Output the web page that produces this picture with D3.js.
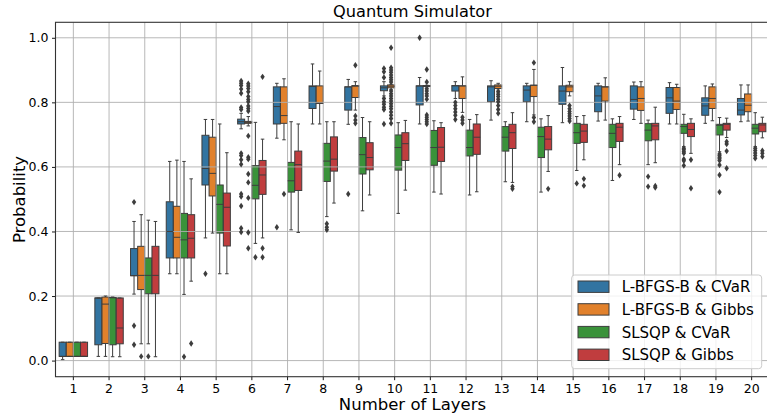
<!DOCTYPE html>
<html>
<head>
<meta charset="utf-8">
<script src="https://cdn.jsdelivr.net/npm/d3@7"></script>
<style>
    body { margin: 0; background: #fff; }
    svg { font-family: "DejaVu Sans", sans-serif; }
</style>
</head>
<body>
<div id="chart"></div>
<script>
// layer counts on the x axis
let layers = [1, 2, 3, 4, 5, 6, 7, 8, 9, 10, 11, 12, 13, 14, 15, 16, 17, 18, 19, 20];
let seriesNames = ["L-BFGS-B & CVaR", "L-BFGS-B & Gibbs", "SLSQP & CVaR", "SLSQP & Gibbs"];
let seriesColors = ["#3274a1", "#e1812c", "#3a923a", "#c03d3e"];
let yTicks = [0.0, 0.2, 0.4, 0.6, 0.8, 1.0];

// box stats per layer: [whisker low, q1, median, q3, whisker high]
let bfgsCvar = [
    [0.003, 0.013, 0.013, 0.057, 0.057], [0.013, 0.049, 0.194, 0.194, 0.194],
    [0.206, 0.263, 0.263, 0.347, 0.431], [0.269, 0.318, 0.400, 0.492, 0.617],
    [0.380, 0.544, 0.595, 0.698, 0.747], [0.718, 0.733, 0.740, 0.748, 0.766],
    [0.689, 0.733, 0.787, 0.848, 0.859], [0.733, 0.781, 0.849, 0.851, 0.919],
    [0.732, 0.776, 0.848, 0.848, 0.871], [0.820, 0.836, 0.845, 0.851, 0.864],
    [0.733, 0.792, 0.851, 0.851, 0.877], [0.812, 0.835, 0.851, 0.852, 0.864],
    [0.745, 0.802, 0.848, 0.851, 0.867], [0.740, 0.802, 0.838, 0.851, 0.859],
    [0.737, 0.794, 0.835, 0.851, 0.908], [0.742, 0.771, 0.820, 0.851, 0.859],
    [0.747, 0.779, 0.809, 0.851, 0.863], [0.733, 0.766, 0.814, 0.846, 0.861],
    [0.735, 0.760, 0.789, 0.814, 0.851], [0.740, 0.761, 0.776, 0.812, 0.854]
];
let bfgsGibbs = [
    [0.013, 0.013, 0.013, 0.057, 0.057], [0.013, 0.053, 0.175, 0.197, 0.200],
    [0.052, 0.220, 0.264, 0.354, 0.452], [0.269, 0.318, 0.382, 0.478, 0.621],
    [0.395, 0.510, 0.580, 0.692, 0.747], [0.727, 0.735, 0.738, 0.741, 0.756],
    [0.684, 0.735, 0.759, 0.848, 0.873], [0.733, 0.797, 0.797, 0.851, 0.897],
    [0.776, 0.815, 0.850, 0.852, 0.864], [0.840, 0.845, 0.850, 0.854, 0.856],
    [0.848, 0.849, 0.851, 0.852, 0.853], [0.769, 0.812, 0.851, 0.851, 0.879],
    [0.838, 0.843, 0.850, 0.854, 0.859], [0.761, 0.818, 0.853, 0.853, 0.902],
    [0.820, 0.833, 0.848, 0.853, 0.864], [0.745, 0.804, 0.848, 0.848, 0.876],
    [0.735, 0.775, 0.812, 0.848, 0.864], [0.733, 0.778, 0.804, 0.846, 0.856],
    [0.743, 0.781, 0.812, 0.848, 0.857], [0.742, 0.771, 0.791, 0.826, 0.854]
];
let slsqpCvar = [
    [0.013, 0.013, 0.013, 0.057, 0.057], [0.012, 0.049, 0.195, 0.195, 0.197],
    [0.052, 0.207, 0.264, 0.318, 0.435], [0.205, 0.318, 0.374, 0.456, 0.617],
    [0.269, 0.395, 0.484, 0.544, 0.733], [0.363, 0.501, 0.543, 0.604, 0.738],
    [0.405, 0.522, 0.557, 0.614, 0.740], [0.446, 0.555, 0.618, 0.673, 0.740],
    [0.464, 0.578, 0.638, 0.691, 0.753], [0.456, 0.590, 0.660, 0.699, 0.737],
    [0.522, 0.605, 0.660, 0.713, 0.743], [0.513, 0.634, 0.660, 0.714, 0.747],
    [0.554, 0.649, 0.692, 0.725, 0.740], [0.522, 0.629, 0.694, 0.723, 0.749],
    [0.589, 0.673, 0.706, 0.735, 0.756], [0.558, 0.660, 0.704, 0.732, 0.749],
    [0.607, 0.681, 0.714, 0.734, 0.745], [0.663, 0.704, 0.725, 0.732, 0.763],
    [0.647, 0.699, 0.729, 0.732, 0.753], [0.663, 0.702, 0.720, 0.732, 0.768]
];
let slsqpGibbs = [
    [0.013, 0.013, 0.013, 0.057, 0.057], [0.012, 0.052, 0.101, 0.194, 0.194],
    [0.012, 0.207, 0.264, 0.354, 0.431], [0.246, 0.318, 0.379, 0.452, 0.563],
    [0.269, 0.355, 0.475, 0.519, 0.644], [0.380, 0.515, 0.575, 0.620, 0.686],
    [0.397, 0.527, 0.607, 0.649, 0.733], [0.488, 0.587, 0.624, 0.693, 0.740],
    [0.513, 0.591, 0.629, 0.675, 0.740], [0.528, 0.620, 0.672, 0.706, 0.744],
    [0.516, 0.617, 0.661, 0.722, 0.737], [0.523, 0.639, 0.692, 0.733, 0.762],
    [0.552, 0.657, 0.706, 0.732, 0.768], [0.586, 0.653, 0.686, 0.725, 0.759],
    [0.622, 0.676, 0.711, 0.732, 0.759], [0.607, 0.679, 0.723, 0.735, 0.756],
    [0.613, 0.684, 0.727, 0.735, 0.785], [0.642, 0.694, 0.716, 0.735, 0.749],
    [0.691, 0.714, 0.732, 0.735, 0.751], [0.690, 0.709, 0.730, 0.735, 0.754]
];

// outliers per layer
let bfgsCvarOut = [
    [], [], [0.491, 0.108, 0.049], [], [0.269],
    [0.866, 0.859, 0.852, 0.841, 0.828, 0.784, 0.778, 0.642, 0.635, 0.622, 0.608, 0.516, 0.508, 0.479, 0.410, 0.398],
    [0.413], [], [0.516], [0.905, 0.895, 0.877, 0.812, 0.802, 0.794, 0.785, 0.778, 0.733],
    [1.0], [0.800, 0.790, 0.780, 0.770, 0.760, 0.747], [], [], [], [], [], [], [], []
];
let bfgsGibbsOut = [
    [], [], [0.013], [], [],
    [0.858, 0.851, 0.843, 0.833, 0.818, 0.809, 0.802, 0.789, 0.781, 0.773, 0.696, 0.630, 0.624, 0.578, 0.552, 0.504, 0.397, 0.348],
    [0.516], [], [0.915, 0.758, 0.745, 0.735],
    [0.969, 0.907, 0.900, 0.893, 0.885, 0.877, 0.870, 0.863, 0.835, 0.827, 0.820, 0.812, 0.804, 0.796, 0.788, 0.780, 0.770, 0.760, 0.750, 0.735],
    [0.902, 0.863, 0.842, 0.835, 0.827, 0.820, 0.810, 0.761, 0.754, 0.747, 0.740, 0.733],
    [0.754, 0.745, 0.735],
    [0.833, 0.825, 0.818, 0.810, 0.802, 0.790, 0.778, 0.766],
    [0.923, 0.753, 0.740],
    [0.790, 0.780, 0.772, 0.765, 0.758, 0.750, 0.742],
    [], [], [], [], []
];
let slsqpCvarOut = [
    [], [], [0.013], [0.012], [], [0.320], [], [0.424, 0.413, 0.405], [], [],
    [], [], [], [], [0.549], [], [0.570, 0.539],
    [0.658, 0.653, 0.647, 0.642, 0.624, 0.619, 0.604],
    [0.640, 0.635, 0.630, 0.625, 0.620, 0.606, 0.575, 0.522],
    [0.658, 0.651, 0.643, 0.635, 0.627]
];
let slsqpGibbsOut = [
    [], [], [], [0.053], [], [0.879, 0.348, 0.320], [], [], [], [],
    [], [], [0.539, 0.532], [0.532], [0.563, 0.542], [0.574], [0.541, 0.536],
    [0.622, 0.534], [0.678, 0.671, 0.649, 0.596], [0.650, 0.642, 0.632]
];

let boxStats = [bfgsCvar, bfgsGibbs, slsqpCvar, slsqpGibbs];
let outliers = [bfgsCvarOut, bfgsGibbsOut, slsqpCvarOut, slsqpGibbsOut];

let width = 767, height = 419;
let margin = {top: 22.3, right: -2.5, bottom: 42.3, left: 55.5};
let edge = "#3d3d3d";

let svg = d3.select("#chart")
    .append("svg")
    .attr("width", width)
    .attr("height", height);

let x = d3.scaleBand()
    .domain(layers)
    .range([margin.left, width - margin.right]);

let hue = d3.scaleBand()
    .domain(seriesNames)
    .range([x.bandwidth() * 0.1, x.bandwidth() * 0.9]);

let y = d3.scaleLinear()
    .domain([-0.0499, 1.048])
    .range([height - margin.bottom, margin.top]);

let boxW = hue.bandwidth() * 0.98;

// flatten into one record per box
let boxes = [];
seriesNames.forEach(function (name, s) {
    layers.forEach(function (layer, i) {
        let st = boxStats[s][i];
        boxes.push({
            series: name, color: seriesColors[s], layer: layer,
            lo: st[0], q1: st[1], med: st[2], q3: st[3], hi: st[4],
            out: outliers[s][i]
        });
    });
});

function cx(d) {
    return x(d.layer) + hue(d.series) + hue.bandwidth() / 2;
}

// box bodies (patches sit under the grid like matplotlib)
svg.append("g")
    .selectAll("rect")
    .data(boxes)
    .join("rect")
    .attr("x", d => cx(d) - boxW / 2)
    .attr("width", boxW)
    .attr("y", d => y(d.q3))
    .attr("height", d => Math.max(0.01, y(d.q1) - y(d.q3)))
    .attr("fill", d => d.color)
    .attr("stroke", edge)
    .attr("stroke-width", 1);

// grid
let grid = svg.append("g")
    .attr("stroke", "#b0b0b0")
    .attr("stroke-width", 0.9);
grid.selectAll(".gx")
    .data(layers)
    .join("line")
    .attr("x1", d => x(d) + x.bandwidth() / 2)
    .attr("x2", d => x(d) + x.bandwidth() / 2)
    .attr("y1", margin.top)
    .attr("y2", height - margin.bottom);
grid.selectAll(".gy")
    .data(yTicks)
    .join("line")
    .attr("x1", margin.left)
    .attr("x2", width)
    .attr("y1", d => y(d))
    .attr("y2", d => y(d));

// whiskers, caps, medians
let lines = svg.append("g")
    .attr("stroke", edge)
    .attr("stroke-width", 1);
let b = lines.selectAll("g")
    .data(boxes)
    .join("g");
b.append("line")
    .attr("x1", cx).attr("x2", cx)
    .attr("y1", d => y(d.q3)).attr("y2", d => y(d.hi));
b.append("line")
    .attr("x1", cx).attr("x2", cx)
    .attr("y1", d => y(d.q1)).attr("y2", d => y(d.lo));
b.append("line")
    .attr("x1", d => cx(d) - boxW / 4).attr("x2", d => cx(d) + boxW / 4)
    .attr("y1", d => y(d.hi)).attr("y2", d => y(d.hi));
b.append("line")
    .attr("x1", d => cx(d) - boxW / 4).attr("x2", d => cx(d) + boxW / 4)
    .attr("y1", d => y(d.lo)).attr("y2", d => y(d.lo));
b.append("line")
    .attr("x1", d => cx(d) - boxW / 2).attr("x2", d => cx(d) + boxW / 2)
    .attr("y1", d => y(d.med)).attr("y2", d => y(d.med));

// outliers as thin diamonds
let fliers = [];
boxes.forEach(function (d) {
    d.out.forEach(function (v) {
        fliers.push({x: cx(d), v: v});
    });
});
svg.append("g")
    .selectAll("path")
    .data(fliers)
    .join("path")
    .attr("transform", d => "translate(" + d.x + "," + y(d.v) + ")")
    .attr("d", "M0,-3.2L2.2,0L0,3.2L-2.2,0Z")
    .attr("fill", edge);

// axes
let xAxis = svg.append("g")
    .attr("transform", "translate(0," + (height - margin.bottom) + ")")
    .call(d3.axisBottom(x).tickSize(3.5).tickPadding(3.5));
let yAxis = svg.append("g")
    .attr("transform", "translate(" + margin.left + ",0)")
    .call(d3.axisLeft(y).tickValues(yTicks).tickFormat(d3.format(".1f")).tickSize(3.5).tickPadding(3.5));
[xAxis, yAxis].forEach(function (a) {
    a.select(".domain").remove();
    a.selectAll("line").attr("stroke", "#000").attr("stroke-width", 0.9);
    a.selectAll("text")
        .attr("fill", "#000")
        .style("font-size", "12.5px")
        .style("font-family", "DejaVu Sans");
});

// frame
svg.append("rect")
    .attr("x", margin.left)
    .attr("y", margin.top)
    .attr("width", width - margin.right - margin.left)
    .attr("height", height - margin.bottom - margin.top)
    .attr("fill", "none")
    .attr("stroke", "#333")
    .attr("stroke-width", 1.1);

svg.append("text")
    .attr("x", (margin.left + width - margin.right) / 2)
    .attr("y", 17.3)
    .attr("text-anchor", "middle")
    .style("font-size", "16.2px")
    .text("Quantum Simulator");

svg.append("text")
    .attr("x", (margin.left + width - margin.right) / 2)
    .attr("y", 410)
    .attr("text-anchor", "middle")
    .style("font-size", "16.5px")
    .text("Number of Layers");

svg.append("text")
    .attr("transform", "translate(25," + ((margin.top + height - margin.bottom) / 2) + ") rotate(-90)")
    .attr("text-anchor", "middle")
    .style("font-size", "16.5px")
    .text("Probability");

// legend, lower right
let legend = svg.append("g");
legend.append("rect")
    .attr("x", 571.7)
    .attr("y", 275)
    .attr("width", 190)
    .attr("height", 93.7)
    .attr("rx", 3)
    .attr("fill", "#fff")
    .attr("fill-opacity", 0.8)
    .attr("stroke", "#cccccc");
let items = legend.selectAll(".item")
    .data(seriesNames)
    .join("g")
    .attr("transform", (d, i) => "translate(0," + (286.7 + i * 22.7) + ")");
items.append("rect")
    .attr("x", 578)
    .attr("y", -5.7)
    .attr("width", 31)
    .attr("height", 11.4)
    .attr("fill", (d, i) => seriesColors[i])
    .attr("stroke", edge)
    .attr("stroke-width", 1);
items.append("text")
    .attr("x", 621.7)
    .attr("dy", "0.36em")
    .style("font-size", "15px")
    .text(d => d);
</script>
</body>
</html>
